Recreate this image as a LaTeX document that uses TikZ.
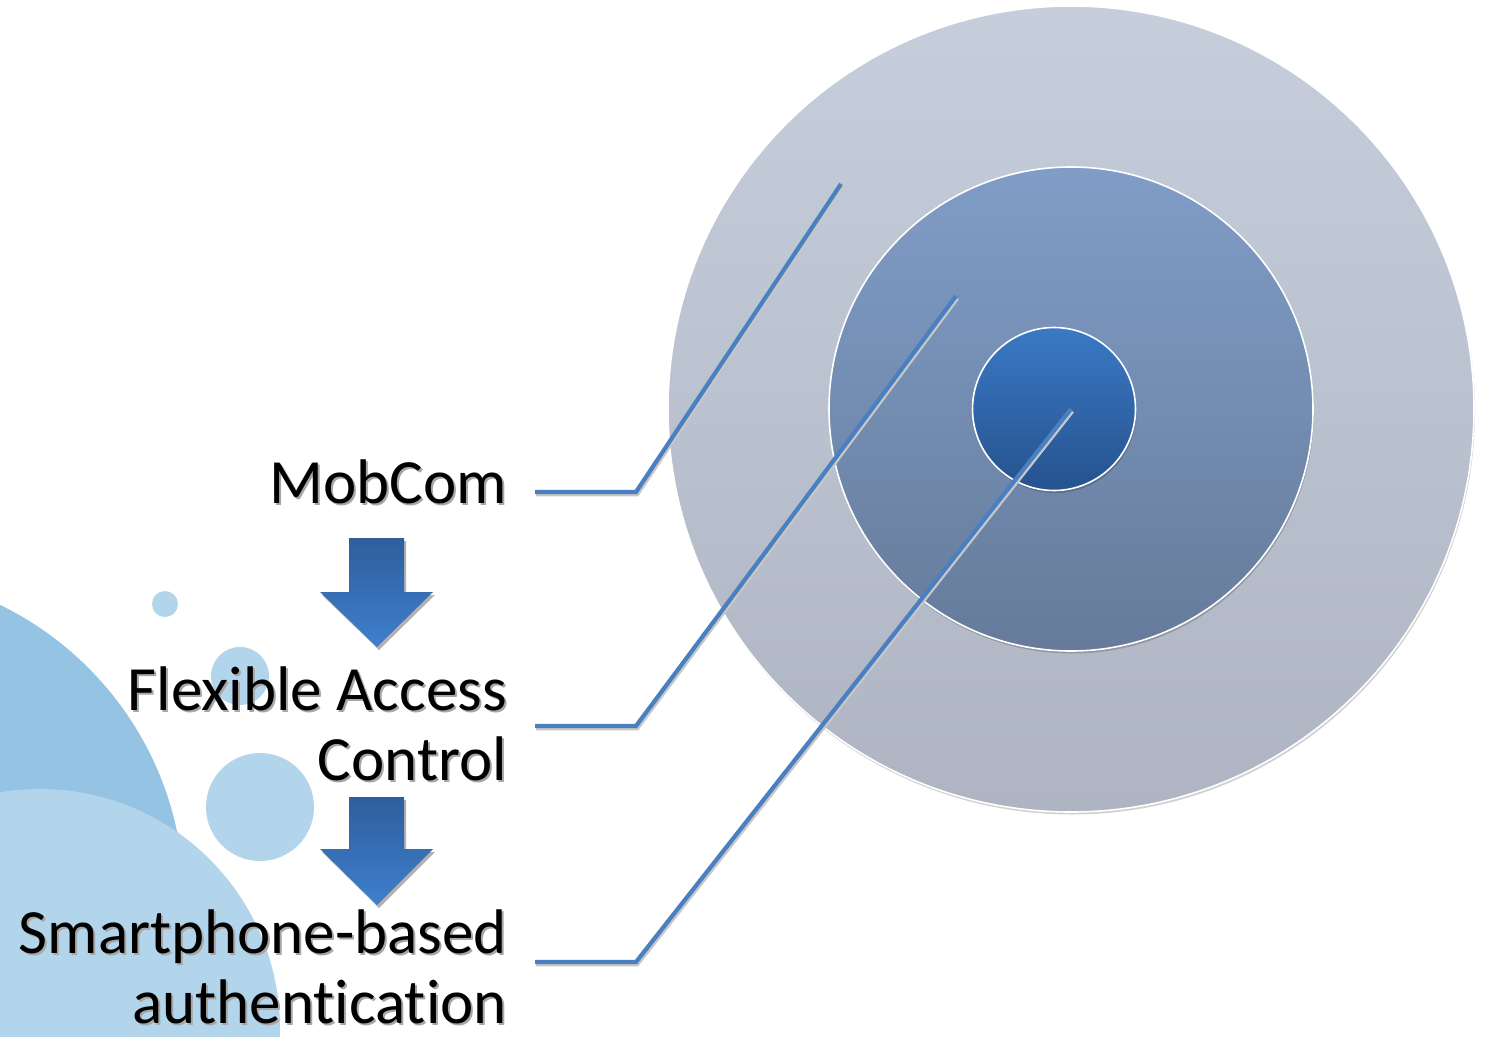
\documentclass[tikz,border=0pt]{standalone}
\usepackage{fontspec}
\setmainfont{Carlito}[Ligatures={NoCommon}]
\usetikzlibrary{shadows}
\definecolor{bgdark}{HTML}{94C3E3}
\definecolor{bglight}{HTML}{B3D5EB}
\definecolor{connblue}{HTML}{4A7FC1}
\definecolor{outtop}{HTML}{C6CEDC}
\definecolor{outbot}{HTML}{AEB4C2}
\definecolor{midtop}{HTML}{809DC7}
\definecolor{midbot}{HTML}{667B9A}
\definecolor{intop}{HTML}{3A79C5}
\definecolor{inbot}{HTML}{26528E}
\definecolor{arrtop}{HTML}{2F5E9C}
\definecolor{arrbot}{HTML}{3E7FCD}
\newcommand{\shtext}[1]{\makebox[0pt][l]{\raisebox{-2.5pt}{\hspace{2pt}\textcolor{black!35}{#1}}}#1}
\tikzset{
  ring/.style={circle, draw=white, line width=1.6pt, inner sep=0pt, outer sep=0pt,
    minimum size=#1, drop shadow={shadow xshift=1pt, shadow yshift=-2.5pt, opacity=0.18, fill=black}},
  lbl/.style={anchor=base east, inner sep=0pt, font=\fontsize{63}{70}\selectfont},
  conn/.style={draw=connblue, line width=4.2pt, line join=miter,
    preaction={draw=black!22, line width=4.2pt, transform canvas={xshift=1.2pt, yshift=-2.2pt}}},
  downarrow/.style={top color=arrtop, bottom color=arrbot, draw=none,
    drop shadow={shadow xshift=2pt, shadow yshift=-3pt, opacity=0.3, fill=black}}
}
\begin{document}
\begin{tikzpicture}[x=1pt, y=-1pt]
\useasboundingbox (0,0) rectangle (1485,1036);
\fill[white] (0,0) rectangle (1485,1036);
% background decoration
\begin{scope}
  \clip (0,0) rectangle (1485,1036);
  \fill[bgdark] (-143,899) circle[radius=327];
  \fill[bglight] (40,1029) circle[radius=240];
  \fill[bglight] (165,604) circle[radius=13];
  \fill[bglight] (240,676) circle[radius=29];
  \fill[bglight] (260,807) circle[radius=54];
\end{scope}
% concentric circles
\node[ring=806pt, top color=outtop, bottom color=outbot] (outer) at (1071,409) {};
\node[ring=484pt, top color=midtop, bottom color=midbot] (middle) at (1071,409) {};
\node[ring=163pt, top color=intop, bottom color=inbot] (inner) at (1054,409) {};
% labels
\node[lbl] (mob) at (507,503) {\shtext{MobCom}};
\node[lbl] (flex) at (507,710) {\shtext{Flexible Access}};
\node[lbl] (ctrl) at (507,780) {\shtext{Control}};
\node[lbl] (smart) at (507,953) {\shtext{Smartphone-based}};
\node[lbl] (auth) at (507,1023) {\shtext{authentication}};
% down arrows
\path[downarrow] (349,538) -- (404,538) -- (404,592) -- (433,592) -- (377,647) -- (320,592) -- (349,592) -- cycle;
\path[downarrow] (349,797) -- (404,797) -- (404,849) -- (433,849) -- (377,905) -- (320,849) -- (349,849) -- cycle;
% connector coordinates
\coordinate (mobS) at (535,492);
\coordinate (mobK) at (636,492);
\coordinate (mobE) at (841,184);
\coordinate (flexS) at (535,726);
\coordinate (flexK) at (636,726);
\coordinate (flexE) at (956,296);
\coordinate (smartS) at (535,962);
\coordinate (smartK) at (636,962);
\coordinate (smartE) at (1071,409);
\draw[conn] (mobS) -- (mobK) -- (mobE);
\draw[conn] (flexS) -- (flexK) -- (flexE);
\draw[conn] (smartS) -- (smartK) -- (smartE);
\end{tikzpicture}
\end{document}
